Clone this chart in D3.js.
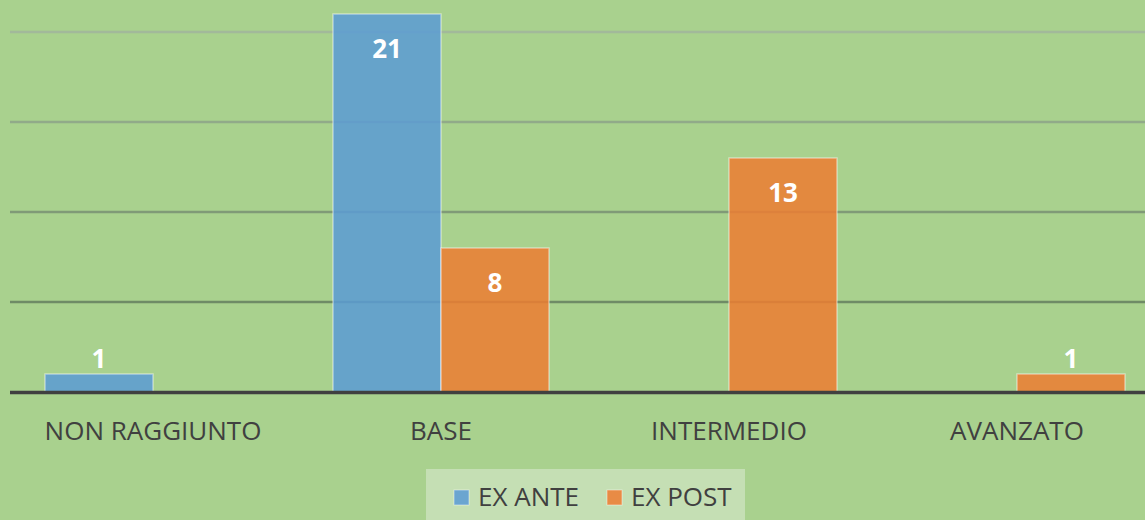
<!DOCTYPE html>
<html>
<head>
<meta charset="utf-8">
<script src="https://cdn.jsdelivr.net/npm/d3@7"></script>
<style>
  html, body { margin: 0; padding: 0; background: #a9d18e; }
  svg { display: block; font-family: "Open Sans", sans-serif; }
</style>
</head>
<body>
<div id="container"></div>
<script>
const categories = ["NON RAGGIUNTO", "BASE", "INTERMEDIO", "AVANZATO"];
const seriesNames = ["EX ANTE", "EX POST"];
const exAnte = [1, 21, 0, 0];
const exPost = [0, 8, 13, 1];
const gridTicks = [5, 10, 15, 20];

const w = 1145;
const h = 520;
const baseY = 392;
const colors = {"EX ANTE": "#5b9bd5", "EX POST": "#ed7d31"};

const rows = categories.map((c, i) => ({cat: c, values: [
    {name: seriesNames[0], v: exAnte[i]},
    {name: seriesNames[1], v: exPost[i]}
]}));

const xScale = d3.scaleBand()
      .domain(categories)
      .range([9, 1161])
      .paddingInner(0.25)
      .paddingOuter(0.125);

const xSub = d3.scaleBand()
      .domain(seriesNames)
      .range([0, xScale.bandwidth()]);

const yScale = d3.scaleLinear()
      .domain([0, 25])
      .range([baseY, baseY - 450]);

// gridlines fade out towards the top
const gridColor = d3.scaleLinear()
      .domain([5, 20])
      .range(["#6f8b66", "#a2b99a"]);

let svg = d3.select("#container")
    .append("svg")
    .attr("width", w)
    .attr("height", h);

svg.append("rect")
    .attr("width", w)
    .attr("height", h)
    .attr("fill", "#a9d18e");

svg.append("g")
    .selectAll("line")
    .data(gridTicks)
    .enter()
    .append("line")
    .attr("x1", 10)
    .attr("x2", w)
    .attr("y1", (d) => yScale(d))
    .attr("y2", (d) => yScale(d))
    .attr("stroke", (d) => gridColor(d))
    .attr("stroke-width", 2.5);

let groups = svg.append("g")
    .selectAll("g")
    .data(rows)
    .enter()
    .append("g")
    .attr("transform", (d) => "translate(" + xScale(d.cat) + ",0)");

let bars = groups.selectAll("g.bar")
    .data((d) => d.values.filter((v) => v.v > 0))
    .enter()
    .append("g")
    .attr("class", "bar");

bars.append("rect")
    .attr("x", (d) => xSub(d.name))
    .attr("y", (d) => yScale(d.v))
    .attr("width", xSub.bandwidth())
    .attr("height", (d) => baseY - yScale(d.v))
    .attr("fill", (d) => colors[d.name])
    .attr("fill-opacity", 0.85)
    .attr("stroke", "rgba(255,255,255,0.45)")
    .attr("stroke-width", 1.5);

bars.append("text")
    .text((d) => d.v)
    .attr("x", (d) => xSub(d.name) + xSub.bandwidth() / 2)
    .attr("y", (d) => d.v >= 5 ? yScale(d.v) + 34 : yScale(d.v) - 16)
    .attr("dominant-baseline", "central")
    .attr("text-anchor", "middle")
    .attr("fill", "#ffffff")
    .attr("font-weight", "bold")
    .attr("font-size", "26px");

// axis line
svg.append("line")
    .attr("x1", 10)
    .attr("x2", w)
    .attr("y1", baseY + 0.5)
    .attr("y2", baseY + 0.5)
    .attr("stroke", "#404040")
    .attr("stroke-width", 3.5);

svg.append("g")
    .selectAll("text")
    .data(categories)
    .enter()
    .append("text")
    .text((d) => d)
    .attr("x", (d) => xScale(d) + xScale.bandwidth() / 2)
    .attr("y", 430)
    .attr("dominant-baseline", "central")
    .attr("text-anchor", "middle")
    .attr("fill", "#404040")
    .attr("font-size", "26px");

// legend
let legend = svg.append("g").attr("id", "legend");
legend.append("rect")
    .attr("x", 426)
    .attr("y", 469)
    .attr("width", 319)
    .attr("height", 52)
    .attr("fill", "#c5dfb4");

const legendX = [454, 607];
seriesNames.forEach((s, i) => {
    legend.append("rect")
        .attr("x", legendX[i])
        .attr("y", 490)
        .attr("width", 15)
        .attr("height", 15)
        .attr("fill", colors[s])
        .attr("fill-opacity", 0.85)
        .attr("stroke", "rgba(255,255,255,0.45)");
    legend.append("text")
        .text(s)
        .attr("x", legendX[i] + 24)
        .attr("y", 496)
        .attr("dominant-baseline", "central")
        .attr("fill", "#404040")
        .attr("font-size", "26px");
});
</script>
</body>
</html>
